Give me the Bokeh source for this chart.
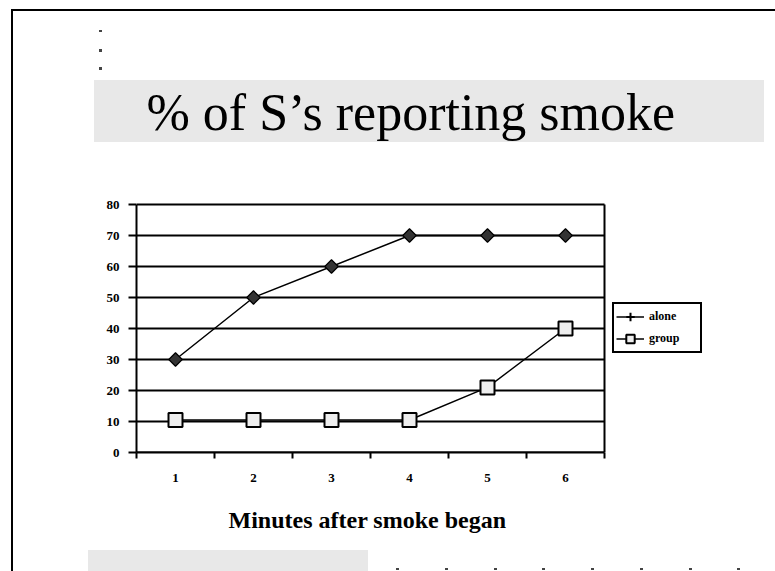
import numpy as np
from bokeh.plotting import figure
from bokeh.models import (FixedTicker, Legend, LegendItem, Title, Range1d)
from bokeh.embed import file_html
from bokeh.resources import INLINE

# ---- data ----
minutes = [1, 2, 3, 4, 5, 6]
alone = [30, 50, 60, 70, 70, 70]
group = [10.5, 10.5, 10.5, 10.5, 21, 40]
y_ticks = [0, 10, 20, 30, 40, 50, 60, 70, 80]
series_names = ["alone", "group"]
title_text = "% of S\u2019s reporting smoke"
x_title = "Minutes after smoke  began"

SERIF = "Liberation Serif"

# ---- geometry (page pixels) ----
W, H = 775, 571
AX_L, AX_R, AX_T, AX_B = 136, 604, 204, 452     # plot area of the chart
FR_R, FR_T = 712, 202                             # frame extends right to hold the legend
x0, x1 = minutes[0] - 0.5, minutes[-1] + 0.5
ppx = (AX_R - AX_L) / (x1 - x0)
ppy = (AX_B - AX_T) / (y_ticks[-1] - y_ticks[0])
x_end = x1 + (FR_R - AX_R) / ppx
y_end = y_ticks[-1] + (AX_T - FR_T) / ppy

p = figure(width=W, height=H, output_backend="svg", toolbar_location=None,
           x_range=Range1d(x0, x_end), y_range=Range1d(y_ticks[0], y_end),
           min_border_left=AX_L, min_border_right=W - FR_R,
           min_border_top=FR_T, min_border_bottom=H - AX_B)
p.background_fill_color = "white"
p.border_fill_alpha = 0
p.outline_line_color = None

# x axis: ticks at category boundaries (minor), labels at centres (major)
xa = p.xaxis[0]
xa.bounds = (x0, x1)
xa.ticker = FixedTicker(ticks=minutes, minor_ticks=[m - 0.5 for m in minutes] + [minutes[-1] + 0.5])
xa.major_tick_out = 0
xa.major_tick_in = 0
xa.minor_tick_out = 6
xa.minor_tick_in = 0
xa.minor_tick_line_width = 2
xa.minor_tick_line_color = "black"
xa.axis_line_width = 2
xa.axis_line_color = "black"
xa.major_label_standoff = 15
xa.major_label_text_font = SERIF
xa.major_label_text_font_style = "bold"
xa.major_label_text_font_size = "13px"
xa.major_label_text_color = "black"

ya = p.yaxis[0]
ya.bounds = (y_ticks[0], y_ticks[-1])
ya.ticker = FixedTicker(ticks=y_ticks, minor_ticks=[])
ya.major_tick_out = 8
ya.major_tick_in = 0
ya.major_tick_line_width = 2
ya.major_tick_line_color = "black"
ya.axis_line_width = 2
ya.axis_line_color = "black"
ya.major_label_standoff = 9
ya.major_label_text_font = SERIF
ya.major_label_text_font_style = "bold"
ya.major_label_text_font_size = "13px"
ya.major_label_text_color = "black"

p.xgrid.visible = False
p.ygrid.visible = False

# horizontal gridlines and right edge of the plot area, limited to the categories
p.segment(x0=[x0] * len(y_ticks), y0=y_ticks, x1=[x1] * len(y_ticks), y1=y_ticks,
          line_color="black", line_width=2)
p.segment(x0=[x1], y0=[y_ticks[0]], x1=[x1], y1=[y_ticks[-1]],
          line_color="black", line_width=2)

# ---- series ----
l_alone = p.line(minutes, alone, line_color="black", line_width=1.5)
p.scatter(minutes, alone, marker="square", angle=np.pi / 4, size=9.5,
          fill_color="#333333", line_color="black", line_width=1.2)
l_group = p.line(minutes, group, line_color="black", line_width=1.5)
s_group = p.scatter(minutes, group, marker="square", size=14,
                    fill_color="#eeeeee", line_color="black", line_width=2)
# legend-only marker for "alone" (drawn as a cross in the legend, nothing in the plot)
cross_r = p.scatter(x=[np.nan], y=[np.nan], marker="cross", size=10,
                    line_color="black", line_width=2)

legend = Legend(items=[LegendItem(label=series_names[0], renderers=[l_alone, cross_r]),
                       LegendItem(label=series_names[1], renderers=[l_group, s_group])],
                location=(612 - AX_L, AX_B - 353), orientation="vertical",
                glyph_width=28, glyph_height=21, spacing=1, padding=2,
                label_standoff=5, label_width=49, label_height=21,
                label_text_font=SERIF, label_text_font_style="bold",
                label_text_font_size="12px", label_text_color="black",
                border_line_color="black", border_line_width=2, border_line_alpha=1,
                background_fill_color="white", background_fill_alpha=1, margin=0)
p.add_layout(legend, "center")

# ---- x-axis title (centred under the categories) ----
xt = Title(text=x_title, align="left", offset=92, standoff=40,
           text_font=SERIF, text_font_size="24px", text_font_style="bold",
           text_color="black")
p.add_layout(xt, "below")

# ---- slide title ----
title = Title(text=title_text, align="left", offset=10, standoff=124,
              text_font=SERIF, text_font_size="52px", text_font_style="normal",
              text_color="black")
p.add_layout(title, "above")

# ---- slide decorations (page rectangles painted behind the transparent canvas) ----
rects = [  # left, top, width, height, colour
    (11, 9, 764, 2, "black"),
    (11, 9, 2, 562, "black"),
    (94, 80, 670, 62, "#e8e8e8"),
    (88, 550, 280, 21, "#e8e8e8"),
    (99, 30, 3, 2, "#444444"),
    (99, 49, 3, 3, "#444444"),
    (99, 67, 3, 3, "#444444"),
] + [(x, 568, 3, 2, "#444444") for x in (396, 445, 494, 542, 591, 640, 689, 737)]

p.styles = {
    "background-color": "white",
    "background-repeat": "no-repeat",
    "background-image": ", ".join(f"linear-gradient({c}, {c})" for *_, c in rects),
    "background-size": ", ".join(f"{w}px {h}px" for _, _, w, h, _ in rects),
    "background-position": ", ".join(f"{l}px {t}px" for l, t, _, _, _ in rects),
}

open("out.html", "w").write(file_html(p, INLINE))
